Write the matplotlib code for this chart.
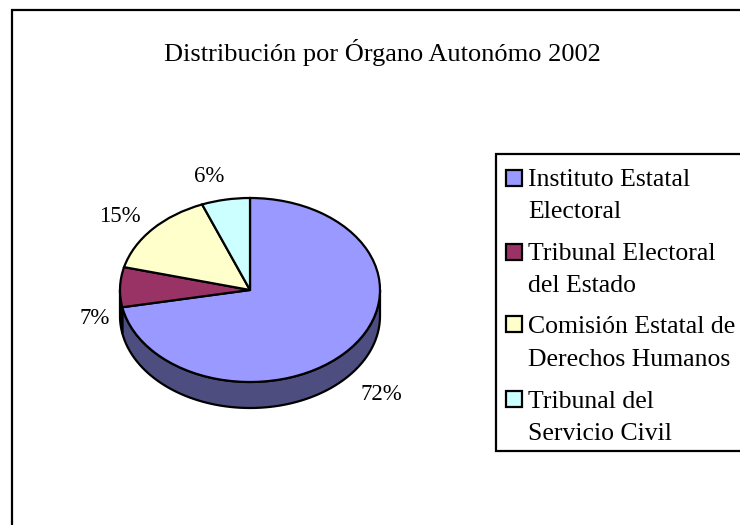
import numpy as np
import matplotlib
matplotlib.use("Agg")
import matplotlib.pyplot as plt
from matplotlib.patches import Rectangle, Polygon

title = "Distribución por Órgano Autonómo 2002"
categories = ["Instituto Estatal\nElectoral", "Tribunal Electoral\ndel Estado",
              "Comisión Estatal de\nDerechos Humanos", "Tribunal del\nServicio Civil"]
values = [72, 7, 15, 6]
labels = ["72%", "7%", "15%", "6%"]
colors = ["#9999FF", "#993366", "#FFFFCC", "#CCFFFF"]
side_colors = ["#4D4D80", "#4D1A33", "#808066", "#668080"]

W, H = 740, 525
plt.rcParams['font.family'] = ['Liberation Serif', 'DejaVu Serif']
fig = plt.figure(figsize=(W/100, H/100), dpi=100, facecolor="white")

bg = fig.add_axes([0, 0, 1, 1])
bg.set_xlim(0, W); bg.set_ylim(H, 0); bg.axis("off")
bg.add_patch(Rectangle((12, 10), W, H, fc="white", ec="black", lw=1.6))
bg.text(382, 52, title, ha="center", va="center", fontsize=19, color="black")

cx, cy, rx, ry, depth = 250, 290, 130, 92, 26
d = depth / ry
ax = fig.add_axes([(cx-rx)/W, 1-(cy+ry+depth)/H, 2*rx/W, (2*ry+depth)/H])
ax.patch.set_alpha(0)
wedges, _ = ax.pie(values, colors=colors, startangle=90, counterclock=False,
                   wedgeprops=dict(edgecolor="black", linewidth=1.6))
ax.set_aspect("auto")
ax.set_xlim(-1, 1); ax.set_ylim(-1-d, 1)
ax.axis("off")

fr = np.cumsum([0] + values) / sum(values)
for i in range(len(values)):
    a0 = 90 - 360*fr[i]
    a1 = 90 - 360*fr[i+1]
    lo, hi = sorted((a0, a1))
    for shift in (0, -360):
        s, e = max(lo+shift, -180), min(hi+shift, 0)
        if s < e:
            t = np.radians(np.linspace(s, e, 80))
            x, y = np.cos(t), np.sin(t)
            pts = np.r_[np.c_[x, y], np.c_[x, y-d][::-1]]
            ax.add_patch(Polygon(pts, closed=True, fc=side_colors[i], ec="black",
                                 lw=1.6, zorder=0.5, clip_on=False))

label_pos = [(381, 394), (95, 318), (120, 216), (209, 176)]
for lab, (x, y) in zip(labels, label_pos):
    bg.text(x, y, lab, ha="center", va="center", fontsize=16.5, color="black")

bg.add_patch(Rectangle((496, 154), W, 297, fc="white", ec="black", lw=1.6))
swatch_y = [178, 252, 324, 399]
baselines = [(186, 218), (260, 292), (333, 366), (408, 440)]
for cat, c, sy, (y1, y2) in zip(categories, colors, swatch_y, baselines):
    bg.add_patch(Rectangle((506, sy-8), 16, 16, fc=c, ec="black", lw=1.6))
    l1, l2 = cat.split("\n")
    bg.text(528, y1, l1, ha="left", va="baseline", fontsize=18.5, color="black")
    bg.text(528, y2, l2, ha="left", va="baseline", fontsize=18.5, color="black")

fig.savefig("out.png", dpi=100)
